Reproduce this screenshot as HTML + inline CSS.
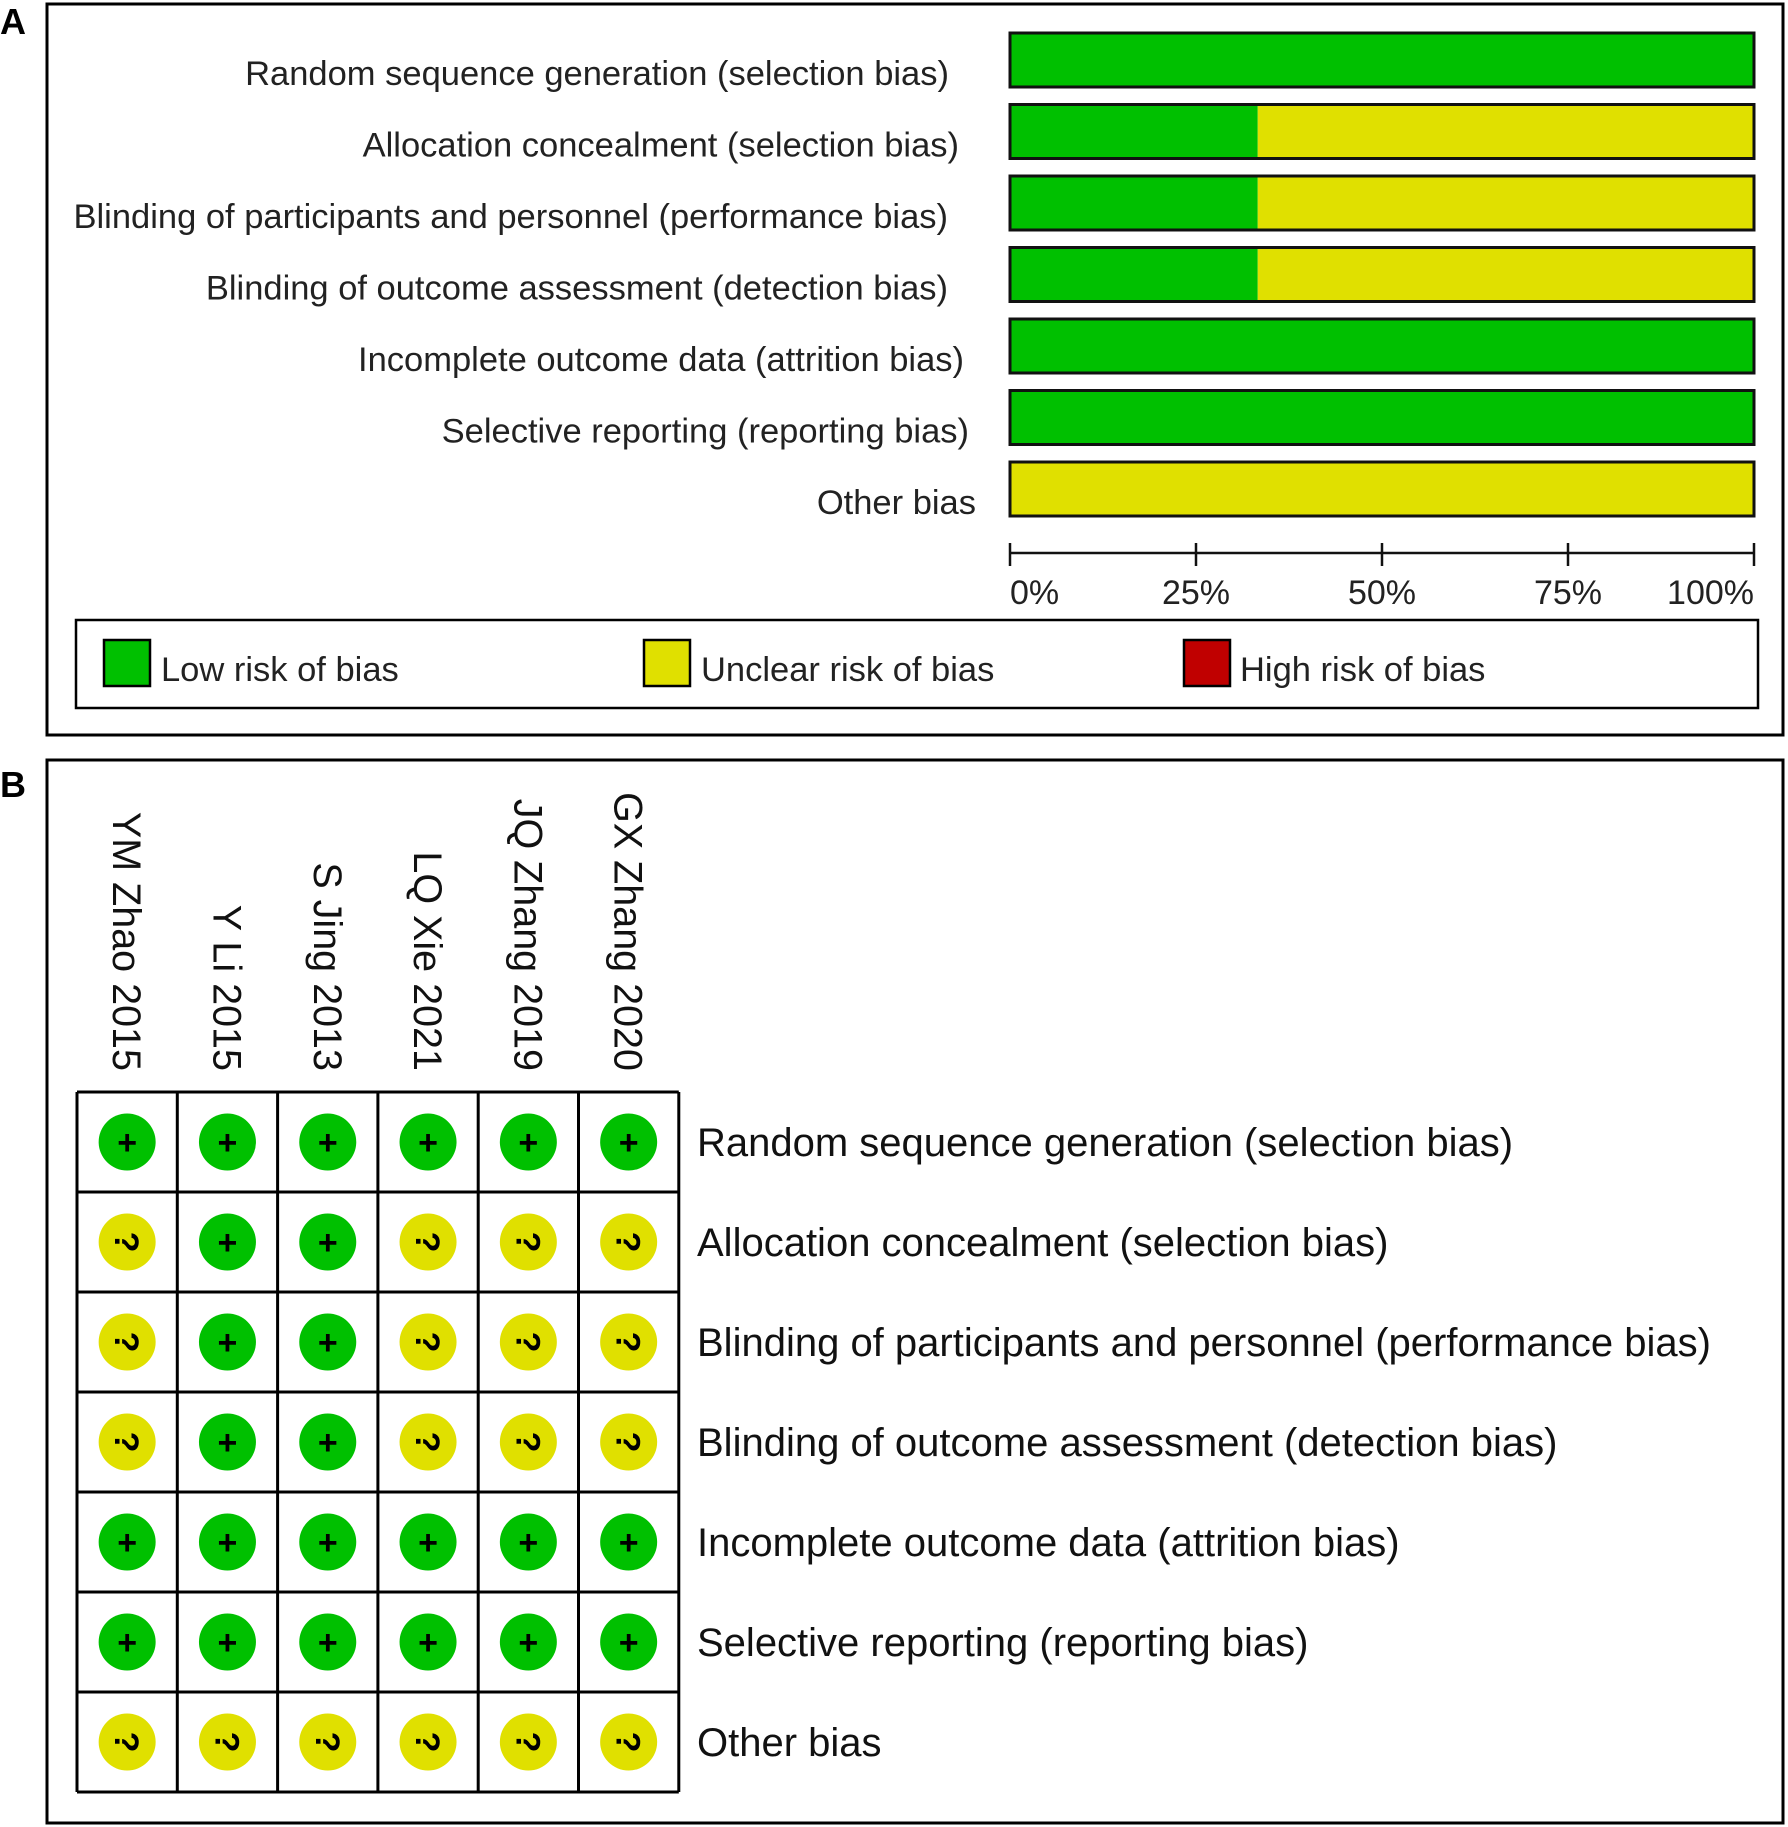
<!DOCTYPE html>
<html><head><meta charset="utf-8"><style>
html,body{margin:0;padding:0;background:#fff}
svg{display:block;font-family:"Liberation Sans",Arial,sans-serif}
</style></head><body>
<svg id="fig" width="1788" height="1827" viewBox="0 0 1788 1827" xmlns="http://www.w3.org/2000/svg">
<rect x="0" y="0" width="1788" height="1827" fill="#fff"/>
<text x="0" y="34" font-size="36" font-weight="bold">A</text>
<rect x="47" y="4" width="1736" height="731" fill="none" stroke="#000" stroke-width="3"/>
<g id="bars"></g>
<g id="axis"></g>
<rect x="76" y="620" width="1682" height="88" fill="none" stroke="#000" stroke-width="2.5"/>
<g>
<rect x="104" y="640" width="46" height="46" fill="#00c000" stroke="#000" stroke-width="2.5"/>
<text x="161" y="681" font-size="34.5" fill="#222">Low risk of bias</text></g>
<g>
<rect x="644" y="640" width="46" height="46" fill="#e0e000" stroke="#000" stroke-width="2.5"/>
<text x="701" y="681" font-size="34.5" fill="#222">Unclear risk of bias</text></g>
<g>
<rect x="1184" y="640" width="46" height="46" fill="#c00000" stroke="#000" stroke-width="2.5"/>
<text x="1240" y="681" font-size="34.5" fill="#222">High risk of bias</text></g>

<text x="0" y="797" font-size="36" font-weight="bold">B</text>
<rect x="47" y="760" width="1736" height="1063" fill="none" stroke="#000" stroke-width="3"/>
<g id="grid"></g>
</svg>
<script>
const domains = ["Random sequence generation (selection bias)","Allocation concealment (selection bias)","Blinding of participants and personnel (performance bias)","Blinding of outcome assessment (detection bias)","Incomplete outcome data (attrition bias)","Selective reporting (reporting bias)","Other bias"];
const lowPct = [100, 33.3, 33.3, 33.3, 100, 100, 0];
const unclearPct = [0, 66.7, 66.7, 66.7, 0, 0, 100];
const highPct = [0, 0, 0, 0, 0, 0, 0];
const ticks = [0, 25, 50, 75, 100];
const tickLabels = ["0%", "25%", "50%", "75%", "100%"];
const studies = ["YM Zhao 2015","Y Li 2015","S Jing 2013","LQ Xie 2021","JQ Zhang 2019","GX Zhang 2020"];
const judgements = [
 ["+","+","+","+","+","+"],
 ["?","+","+","?","?","?"],
 ["?","+","+","?","?","?"],
 ["?","+","+","?","?","?"],
 ["+","+","+","+","+","+"],
 ["+","+","+","+","+","+"],
 ["?","?","?","?","?","?"]
];
const NS="http://www.w3.org/2000/svg";
function mk(tag, attrs, parent){const e=document.createElementNS(NS,tag);for(const k in attrs)e.setAttribute(k,attrs[k]);parent.appendChild(e);return e;}
const x0=1010,x1=1754;
const xs=v=>x0+(x1-x0)*v/100;
const rowY=i=>33+i*71.5;
const barH=54;
const labelEnd=[949,959,948,948,964,969,976];
const bars=document.getElementById('bars');
domains.forEach((d,i)=>{
  const y=rowY(i);
  let acc=0;
  [[lowPct[i],'#00c000','low'],[unclearPct[i],'#e0e000','unclear'],[highPct[i],'#c00000','high']].forEach(([v,c,n])=>{
    if(v>0){
      const r=mk('rect',{x:xs(acc),y:y,width:xs(acc+v)-xs(acc),height:barH,fill:c},bars);
      
      
    }
    acc+=v;
  });
  const o=mk('rect',{x:x0,y:y,width:x1-x0,height:barH,fill:'none',stroke:'#111','stroke-width':3},bars);
  
  
  const t=mk('text',{x:labelEnd[i],y:y+barH/2+25,'font-size':34.5,fill:'#222','text-anchor':'end'},bars);
  t.textContent=d;
  
  
});
const axis=document.getElementById('axis');
const al=mk('line',{x1:x0,y1:553,x2:x1,y2:553,stroke:'#111','stroke-width':2.5},axis);


ticks.forEach((v,i)=>{
  const l=mk('line',{x1:xs(v),y1:543,x2:xs(v),y2:566,stroke:'#111','stroke-width':2.5},axis);
  
  
  const anchor=i==0?'start':(i==ticks.length-1?'end':'middle');
  const t=mk('text',{x:xs(v),y:604,'font-size':34,fill:'#222','text-anchor':anchor},axis);
  t.textContent=tickLabels[i];
  
  
});
const grid=document.getElementById('grid');
const gx=77,gy=1092,cw=100.3,ch=100;
studies.forEach((s,j)=>{
  const cx=gx+cw*j+cw/2;
  const t=mk('text',{transform:'translate('+(cx-14)+',1071) rotate(90)','font-size':39.5,fill:'#111','text-anchor':'end'},grid);
  t.textContent=s;
  
  
});
judgements.forEach((row,i)=>{
  row.forEach((v,j)=>{
    const cx=gx+cw*j+cw/2, cy=gy+ch*i+ch/2;
    const c=mk('circle',{cx:cx,cy:cy,r:28.5,fill:v=='+'?'#00c000':'#e0e000'},grid);
    
    
    const t=mk('text',{transform:'translate('+cx+','+cy+') rotate('+(v=='+'?0:90)+')','font-size':34,'font-weight':'bold','text-anchor':'middle',y:v=='+'?12:12,fill:'#000'},grid);
    t.textContent=v=='+'?'+':'?';
    
    
  });
  const t=mk('text',{x:697,y:gy+ch*i+ch/2+14,'font-size':40,fill:'#111'},grid);
  t.textContent=domains[i];
  
  
});
for(let j=0;j<=studies.length;j++){
  const l=mk('line',{x1:gx+cw*j,y1:gy,x2:gx+cw*j,y2:gy+ch*judgements.length,stroke:'#000','stroke-width':3},grid);
  
  
}
for(let i=0;i<=judgements.length;i++){
  const l=mk('line',{x1:gx,y1:gy+ch*i,x2:gx+cw*studies.length,y2:gy+ch*i,stroke:'#000','stroke-width':3},grid);
  
  
}
</script>
</body></html>
